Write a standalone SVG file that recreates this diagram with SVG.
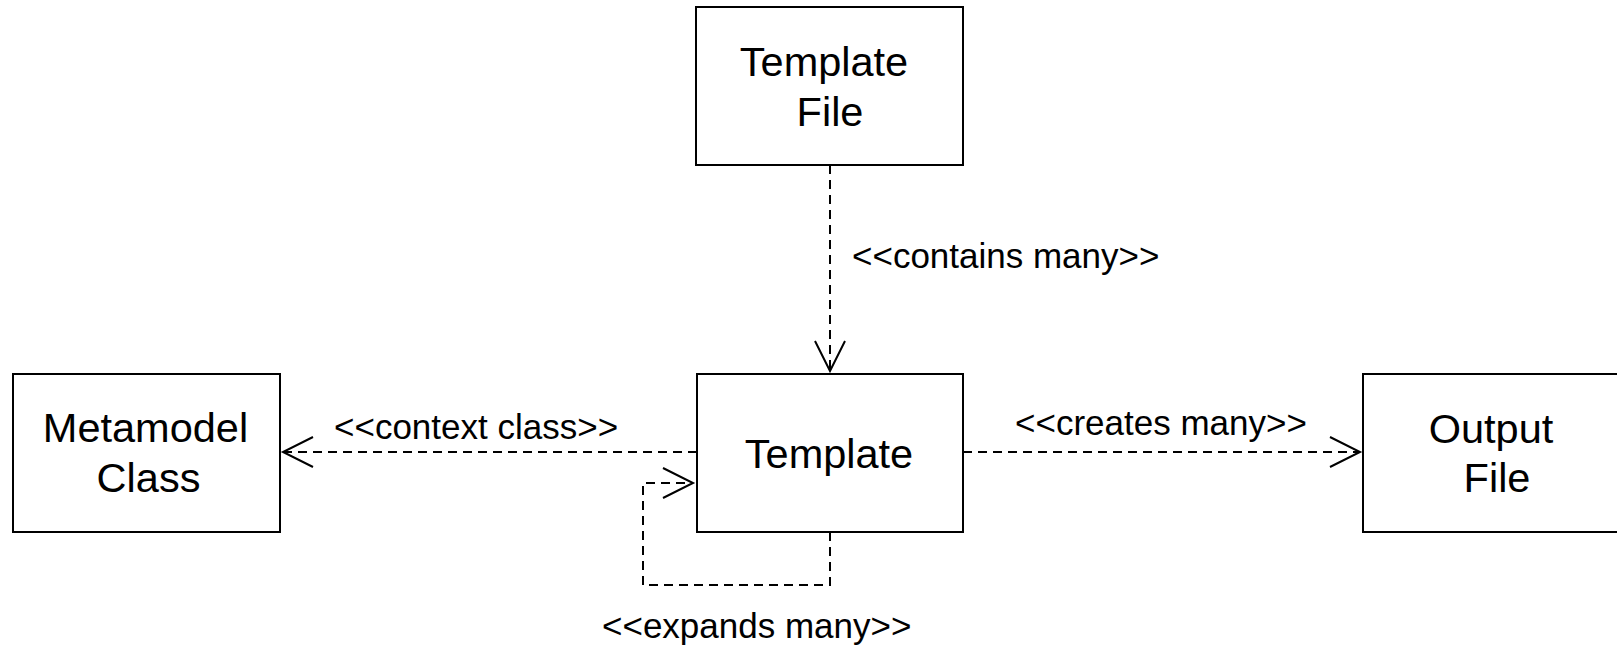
<svg xmlns="http://www.w3.org/2000/svg" width="1617" height="649" viewBox="0 0 1617 649">
  <style>
    .box { fill: #ffffff; stroke: #000000; stroke-width: 2; }
    .name { font-family: "Liberation Sans", Arial, Helvetica, sans-serif; font-size: 41.5px; fill: #000000; text-anchor: middle; }
    .label { font-family: "Liberation Sans", Arial, Helvetica, sans-serif; font-size: 35px; fill: #000000; }
    .dep { fill: none; stroke: #000000; stroke-width: 2; stroke-dasharray: 9 6; marker-end: url(#open-arrow); }
  </style>
  <defs>
    <!-- open "V" arrowhead used by dependency arrows -->
    <marker id="open-arrow" markerUnits="userSpaceOnUse" viewBox="-32 -17 34 34" refX="0" refY="0" markerWidth="34" markerHeight="34" orient="auto" overflow="visible">
      <path d="M-30,-15 L0,0 L-30,15" fill="none" stroke="#000000" stroke-width="2" stroke-dasharray="none"/>
    </marker>
  </defs>

  <rect width="1617" height="649" fill="#ffffff"/>

  <g id="connectors">
    <path class="dep" d="M830,165 V371"/>
    <path class="dep" d="M697,452 H283"/>
    <path class="dep" d="M963,452 H1360"/>
    <path class="dep" d="M830,532 V585 H643 V483 H693"/>
    <text class="label" x="852" y="268">&lt;&lt;contains many&gt;&gt;</text>
    <text class="label" x="334" y="439">&lt;&lt;context class&gt;&gt;</text>
    <text class="label" x="1015" y="435">&lt;&lt;creates many&gt;&gt;</text>
    <text class="label" x="602" y="638">&lt;&lt;expands many&gt;&gt;</text>
  </g>

  <g id="template-file">
    <rect class="box" x="696" y="7" width="267" height="158"/>
    <text class="name" x="824" y="76">Template</text>
    <text class="name" x="830" y="126">File</text>
  </g>

  <g id="template">
    <rect class="box" x="697" y="374" width="266" height="158"/>
    <text class="name" x="829" y="468">Template</text>
  </g>

  <g id="metamodel-class">
    <rect class="box" x="13" y="374" width="267" height="158"/>
    <text class="name" x="145.5" y="442">Metamodel</text>
    <text class="name" x="148.5" y="492">Class</text>
  </g>

  <g id="output-file">
    <rect class="box" x="1363" y="374" width="267" height="158"/>
    <text class="name" x="1491" y="443">Output</text>
    <text class="name" x="1497" y="492">File</text>
  </g>
</svg>
